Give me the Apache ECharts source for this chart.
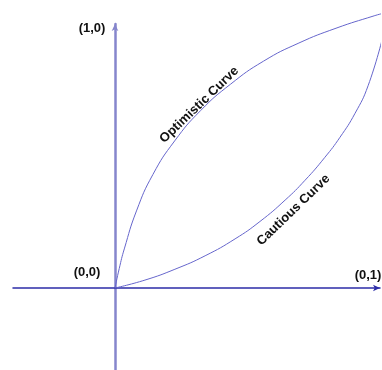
<!DOCTYPE html>
<html>
<head>
<meta charset="utf-8">
<script src="https://cdn.jsdelivr.net/npm/echarts@6/dist/echarts.min.js"></script>
<style>
  html, body { margin: 0; padding: 0; background: #fff; }
  #chart { width: 382px; height: 370px; }
</style>
</head>
<body>
<div id="chart"></div>
<script>
// axis ranges (units: 1 = full scale)
const xRange = [-0.385, 1]
const yRange = [-0.3106, 1]

// optimistic curve
const optimisticX = [0, 0.016, 0.035, 0.081, 0.143, 0.225, 0.323, 0.436, 0.560, 0.694, 0.834, 0.978, 1.014]
const optimisticY = [0, 0.074, 0.148, 0.292, 0.430, 0.557, 0.672, 0.772, 0.859, 0.928, 0.984, 1.031, 1.041]

// cautious curve
const cautiousX = [0, 0.113, 0.226, 0.340, 0.453, 0.547, 0.642, 0.717, 0.792, 0.849, 0.906, 0.955, 1.008]
const cautiousY = [0, 0.030, 0.071, 0.122, 0.186, 0.252, 0.333, 0.408, 0.495, 0.571, 0.662, 0.766, 0.941]

const curveNames = ['Optimistic Curve', 'Cautious Curve']
const pointLabels = ['(1,0)', '(0,0)', '(0,1)']

const font = { fontFamily: 'Liberation Sans, Arial, sans-serif', fontWeight: 'bold', fontSize: 13, color: '#111' }

function pairs(xs, ys) {
  return xs.map((x, i) => [x, ys[i]])
}

// invisible mark that only carries a text label
function textMark(coord, text, offset, rotate) {
  return {
    coord,
    symbol: 'circle',
    symbolSize: 1,
    itemStyle: { color: 'rgba(0,0,0,0)' },
    label: { show: true, position: 'inside', formatter: text, offset, rotate: rotate || 0, ...font },
  }
}

const chart = echarts.init(document.getElementById('chart'))

chart.setOption({
  animation: false,
  grid: { left: 13, right: 2, top: 24, bottom: 0 },
  xAxis: {
    type: 'value',
    min: xRange[0],
    max: xRange[1],
    axisLine: {
      show: true,
      onZero: true,
      symbol: ['none', 'arrow'],
      symbolSize: [5, 7],
      lineStyle: { color: '#2c2ca8', width: 1.5 },
    },
    axisTick: { show: false },
    axisLabel: { show: false },
    splitLine: { show: false },
  },
  yAxis: {
    type: 'value',
    min: yRange[0],
    max: yRange[1],
    axisLine: {
      show: true,
      onZero: true,
      symbol: ['none', 'arrow'],
      symbolSize: [5, 7],
      lineStyle: { color: '#8686cc', width: 2.5 },
    },
    axisTick: { show: false },
    axisLabel: { show: false },
    splitLine: { show: false },
  },
  series: [
    {
      name: curveNames[0],
      type: 'line',
      data: pairs(optimisticX, optimisticY),
      showSymbol: false,
      smooth: 0.5,
      clip: false,
      silent: true,
      lineStyle: { color: '#6666cc', width: 1 },
      markPoint: {
        silent: true,
        data: [
          textMark([optimisticX[6], optimisticY[6]], curveNames[0], [3, -5], 44),
          textMark([0, yRange[1]], pointLabels[0], [-23, 4]),
          textMark([0, 0], pointLabels[1], [-28, -16]),
          textMark([xRange[1], 0], pointLabels[2], [-12, -13]),
        ],
      },
    },
    {
      name: curveNames[1],
      type: 'line',
      data: pairs(cautiousX, cautiousY),
      showSymbol: false,
      smooth: 0.5,
      clip: false,
      silent: true,
      lineStyle: { color: '#6666cc', width: 1 },
      markPoint: {
        silent: true,
        data: [
          textMark([cautiousX[6], cautiousY[6]], curveNames[1], [-1, 13], 44),
        ],
      },
    },
  ],
})
</script>
</body>
</html>
